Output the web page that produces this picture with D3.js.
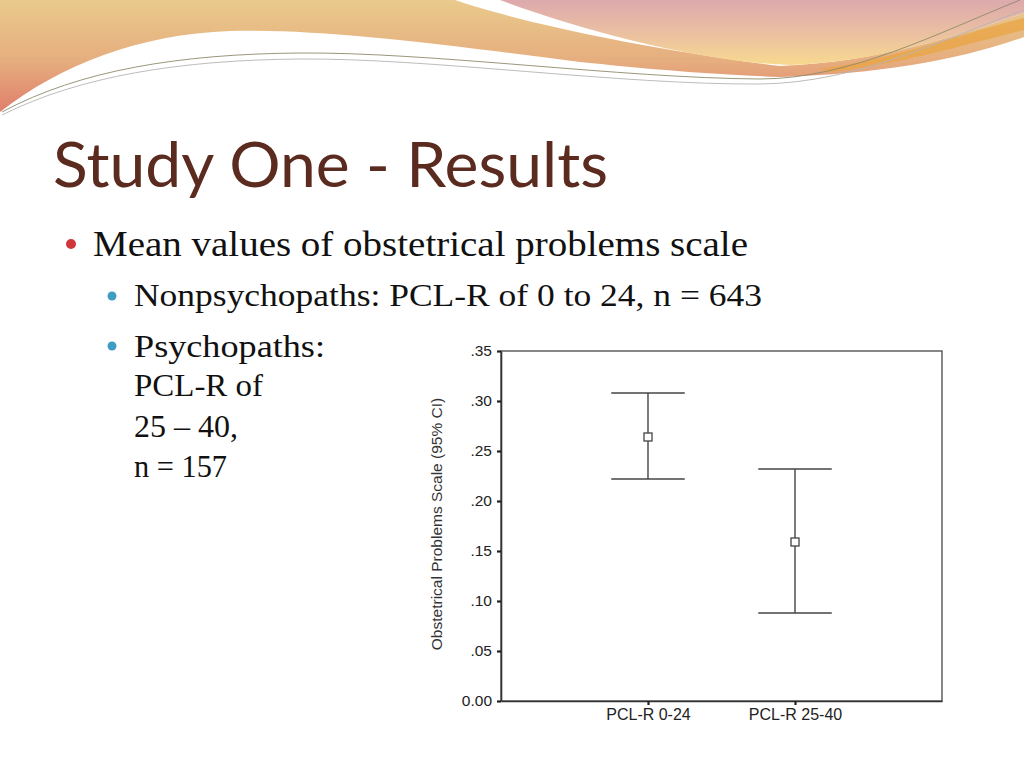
<!DOCTYPE html>
<html>
<head>
<meta charset="utf-8">
<script src="https://cdn.jsdelivr.net/npm/d3@7/dist/d3.min.js"></script>
<style>
  html, body { margin: 0; padding: 0; background: #ffffff; }
  svg { display: block; }
</style>
</head>
<body>
<svg id="slide" width="1024" height="768"></svg>
<script>
// ---- Data ----
const categories = ["PCL-R 0-24", "PCL-R 25-40"];
const meanValues = [0.264, 0.159];
const upperCI = [0.308, 0.232];
const lowerCI = [0.222, 0.088];
const yTickValues = [0, 0.05, 0.10, 0.15, 0.20, 0.25, 0.30, 0.35];
const yTickLabels = ["0.00", ".05", ".10", ".15", ".20", ".25", ".30", ".35"];
const yAxisTitle = "Obstetrical Problems Scale (95% CI)";

const slideTitle = "Study One - Results";
const bullet1 = "Mean values of obstetrical problems scale";
const bullet2 = "Nonpsychopaths: PCL-R of 0 to 24, n = 643";
const bullet3Lines = ["Psychopaths:", "PCL-R of", "25 \u2013 40,", "n = 157"];

const svg = d3.select("#slide");

// ---- Decoration (theme header waves) ----
const defs = svg.append("defs");
const gPink = defs.append("linearGradient").attr("id", "gPink")
  .attr("gradientUnits", "userSpaceOnUse").attr("x1", 0).attr("y1", 0).attr("x2", 0).attr("y2", 66);
gPink.append("stop").attr("offset", 0).attr("stop-color", "#dca9ad");
gPink.append("stop").attr("offset", 0.55).attr("stop-color", "#ecc2a0");
gPink.append("stop").attr("offset", 1).attr("stop-color", "#f8da8e");

const gTan = defs.append("linearGradient").attr("id", "gTan")
  .attr("gradientUnits", "userSpaceOnUse").attr("x1", 0).attr("y1", 0).attr("x2", 0).attr("y2", 112);
gTan.append("stop").attr("offset", 0).attr("stop-color", "#e9ca8c");
gTan.append("stop").attr("offset", 0.55).attr("stop-color", "#e6ad7e");
gTan.append("stop").attr("offset", 1).attr("stop-color", "#e07e6c");

const deco = svg.append("g");
deco.append("path")
  .attr("d", "M0,0 L455,0 C520,22 640,48 780,66 C880,62 960,35 1024,13 L1024,37 C960,60 880,74 780,77 C700,74 640,68 580,62 C450,45 320,28 230,31 C140,34 60,65 0,112 Z")
  .attr("fill", "url(#gTan)");
deco.append("path")
  .attr("d", "M500,0 L1024,0 L1024,13 C960,35 880,62 790,65 C700,62 580,30 500,0 Z")
  .attr("fill", "url(#gPink)");
deco.append("path")
  .attr("d", "M820,69 C900,58 960,34 1024,18 L1024,30 C960,46 900,64 830,72 Z")
  .attr("fill", "#e9a443").attr("opacity", 0.75);
deco.append("path")
  .attr("d", "M2,112 C80,70 180,54 300,53 C430,52 620,78 760,79 C850,79 940,32 1020,0")
  .attr("fill", "none").attr("stroke", "#8f8a6a").attr("stroke-width", 0.9);
deco.append("path")
  .attr("d", "M2,115 C80,76 180,60 300,59 C430,58 620,85 760,84 C860,83 950,36 1024,10")
  .attr("fill", "none").attr("stroke", "#b4b4b4").attr("stroke-width", 0.9);

// ---- Slide text ----
svg.append("text")
  .attr("x", 53).attr("y", 187)
  .attr("font-family", "Lato, 'Open Sans', sans-serif")
  .attr("font-size", 61)
  .attr("fill", "#5b2b1f")
  .attr("textLength", 555).attr("lengthAdjust", "spacingAndGlyphs")
  .text(slideTitle);

const serif = "'Liberation Serif', 'DejaVu Serif', serif";
svg.append("circle").attr("cx", 71).attr("cy", 244).attr("r", 5).attr("fill", "#d0363a");
svg.append("text")
  .attr("x", 93).attr("y", 256)
  .attr("font-family", serif).attr("font-size", 35).attr("fill", "#111")
  .attr("textLength", 655).attr("lengthAdjust", "spacingAndGlyphs")
  .text(bullet1);

svg.append("circle").attr("cx", 112).attr("cy", 296).attr("r", 4.5).attr("fill", "#3d9dc2");
svg.append("text")
  .attr("x", 134).attr("y", 306)
  .attr("font-family", serif).attr("font-size", 32).attr("fill", "#111")
  .attr("textLength", 628).attr("lengthAdjust", "spacingAndGlyphs")
  .text(bullet2);

svg.append("circle").attr("cx", 112).attr("cy", 346).attr("r", 4.5).attr("fill", "#3d9dc2");
const lineBaselines = [357, 396, 437, 477];
const lineWidths = [191, 129, 104, 93];
bullet3Lines.forEach((t, i) => {
  svg.append("text")
    .attr("x", 134).attr("y", lineBaselines[i])
    .attr("font-family", serif).attr("font-size", 32).attr("fill", "#111")
    .attr("textLength", lineWidths[i]).attr("lengthAdjust", "spacingAndGlyphs")
    .text(t);
});

// ---- Chart ----
const plot = { left: 501, right: 942, top: 351, bottom: 701 };
const axisColor = "#333";
const sans = "'Liberation Sans', Arial, sans-serif";

const y = d3.scaleLinear().domain([0, 0.35]).range([plot.bottom, plot.top]);
const x = d3.scalePoint().domain(categories).range([plot.left, plot.right]).padding(1);

const chart = svg.append("g");

// frame (top and right)
chart.append("rect")
  .attr("x", plot.left).attr("y", plot.top)
  .attr("width", plot.right - plot.left).attr("height", plot.bottom - plot.top)
  .attr("fill", "none").attr("stroke", "#555").attr("stroke-width", 1.4);

// Y axis
const yAxis = d3.axisLeft(y)
  .tickValues(yTickValues)
  .tickFormat((d, i) => yTickLabels[i])
  .tickSize(4).tickSizeOuter(0).tickPadding(5);
const gy = chart.append("g").attr("transform", `translate(${plot.left},0)`).call(yAxis);
gy.select(".domain").attr("stroke", axisColor).attr("stroke-width", 1.6);
gy.selectAll(".tick line").attr("stroke", "#222").attr("stroke-width", 2.2);
gy.selectAll(".tick text")
  .attr("font-family", sans).attr("font-size", 15.5).attr("fill", "#222");

// X axis
const xAxis = d3.axisBottom(x).tickSize(4).tickSizeOuter(0).tickPadding(4);
const gx = chart.append("g").attr("transform", `translate(0,${plot.bottom})`).call(xAxis);
gx.select(".domain").attr("stroke", axisColor).attr("stroke-width", 1.6);
gx.selectAll(".tick line").attr("stroke", "#222").attr("stroke-width", 2.2);
gx.selectAll(".tick text")
  .attr("font-family", sans).attr("font-size", 16).attr("fill", "#222");

// Y axis title
chart.append("text")
  .attr("transform", `translate(442,${(plot.top + plot.bottom) / 2 - 2}) rotate(-90)`)
  .attr("text-anchor", "middle")
  .attr("font-family", sans).attr("font-size", 15.5).attr("fill", "#333")
  .text(yAxisTitle);

// Error bars
const capHalf = x.step() * 0.25;
const bars = chart.selectAll("g.errbar")
  .data(categories.map((c, i) => ({ c, m: meanValues[i], hi: upperCI[i], lo: lowerCI[i] })))
  .join("g").attr("class", "errbar");

bars.append("line")
  .attr("x1", d => x(d.c)).attr("x2", d => x(d.c))
  .attr("y1", d => y(d.hi)).attr("y2", d => y(d.lo))
  .attr("stroke", "#444").attr("stroke-width", 1.4);
bars.append("line")
  .attr("x1", d => x(d.c) - capHalf).attr("x2", d => x(d.c) + capHalf)
  .attr("y1", d => y(d.hi)).attr("y2", d => y(d.hi))
  .attr("stroke", "#444").attr("stroke-width", 1.5);
bars.append("line")
  .attr("x1", d => x(d.c) - capHalf).attr("x2", d => x(d.c) + capHalf)
  .attr("y1", d => y(d.lo)).attr("y2", d => y(d.lo))
  .attr("stroke", "#444").attr("stroke-width", 1.5);
bars.append("rect")
  .attr("x", d => x(d.c) - 4).attr("y", d => y(d.m) - 4)
  .attr("width", 8).attr("height", 8)
  .attr("fill", "#fff").attr("stroke", "#444").attr("stroke-width", 1.3);
</script>
</body>
</html>
